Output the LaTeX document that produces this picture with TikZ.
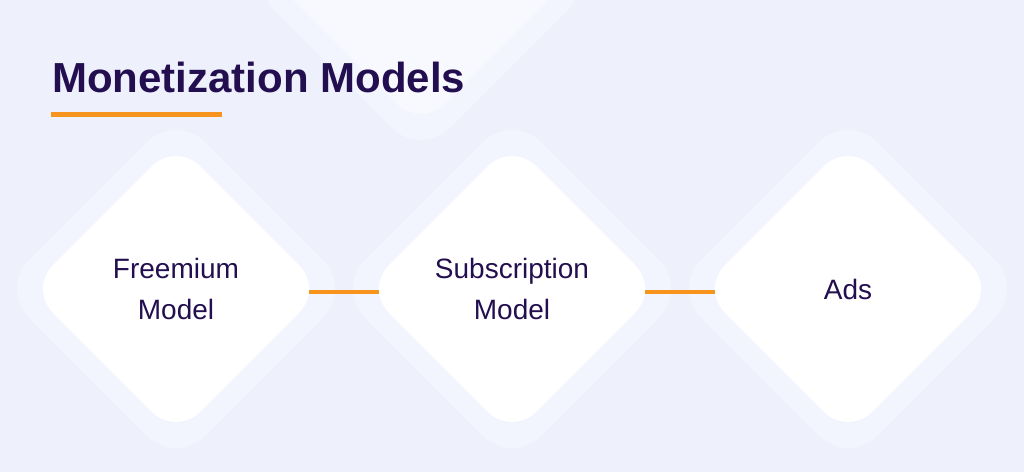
\documentclass[tikz,border=0pt]{standalone}
\usepackage{fontspec}
\setmainfont{Liberation Sans}
\usepackage{xcolor}
\usetikzlibrary{shapes.geometric}
\definecolor{bgcol}{HTML}{EEF1FC}
\definecolor{halocol}{HTML}{F2F5FE}
\definecolor{glowcol}{HTML}{F8F9FE}
\definecolor{inkcol}{HTML}{230F50}
\definecolor{accentcol}{HTML}{F7941D}
\tikzset{
  card/.style={diamond,aspect=1,fill=white,minimum width=294pt,minimum height=294pt,
    inner sep=0pt,outer sep=0pt,rounded corners=34pt,text=inkcol,align=center,
    font=\fontsize{28}{41}\selectfont},
  halo/.style={diamond,aspect=1,fill=halocol,minimum width=352pt,minimum height=352pt,
    inner sep=0pt,outer sep=0pt,rounded corners=41pt},
  link/.style={draw=accentcol,line width=4pt,shorten <=-14pt,shorten >=-14pt}
}

\begin{document}
\begin{tikzpicture}[x=1pt,y=-1pt]
  \useasboundingbox (0,0) rectangle (1024,472);
  \fill[bgcol] (0,0) rectangle (1024,472);
  \clip (0,0) rectangle (1024,472);
  % Backdrop
  \node[halo] (tophalo) at (421,-19) {};
  \node[card,fill=glowcol] (topglow) at (421,-19) {};
  \foreach \x [count=\i] in {176,512,848}
    \node[halo] (halo\i) at (\x,289) {};
  % Title
  \node[anchor=base west,inner sep=0pt,text=inkcol,font=\fontsize{42}{50}\selectfont\bfseries]
    (title) at (52,92) {Monetization Models};
  \draw[accentcol,line width=4.5pt] (51,114.5) -- (222,114.5);
  % Models
  \node[card] (freemium) at (176,289) {Freemium\\Model};
  \node[card] (subscr) at (512,289) {Subscription\\Model};
  \node[card] (ads) at (848,289) {Ads};
  % Lines
  \draw[link] ([yshift=-3pt]freemium.east) -- ([yshift=-3pt]subscr.west);
  \draw[link] ([yshift=-3pt]subscr.east) -- ([yshift=-3pt]ads.west);
\end{tikzpicture}
\end{document}
